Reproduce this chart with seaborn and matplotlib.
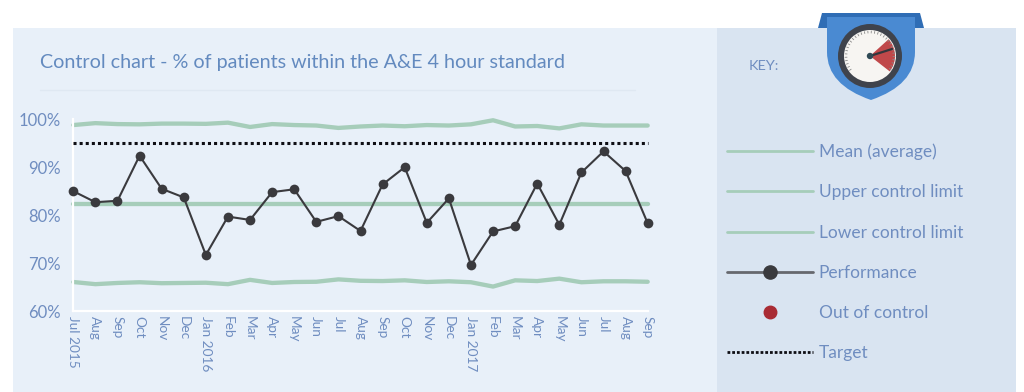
import numpy as np
import pandas as pd
import matplotlib
matplotlib.use("Agg")
import matplotlib.pyplot as plt
from matplotlib.lines import Line2D
from matplotlib.patches import Rectangle, Circle, Wedge, PathPatch, Polygon
from matplotlib.path import Path
import seaborn as sns

tick_labels = ["Jul 2015", "Aug", "Sep", "Oct", "Nov", "Dec", "Jan 2016", "Feb", "Mar", "Apr",
               "May", "Jun", "Jul", "Aug", "Sep", "Oct", "Nov", "Dec", "Jan 2017", "Feb",
               "Mar", "Apr", "May", "Jun", "Jul", "Aug", "Sep"]
performance = [85.0, 82.7, 83.0, 92.4, 85.5, 83.7, 71.7, 79.7, 79.0, 84.8, 85.4, 78.6, 79.8, 76.7,
               86.4, 90.0, 78.4, 83.5, 69.6, 76.6, 77.7, 86.6, 78.0, 88.9, 93.3, 89.2, 78.3]
upper = [98.8, 99.2, 99.0, 98.95, 99.1, 99.1, 99.05, 99.3, 98.4, 99.0, 98.8, 98.7, 98.2, 98.5,
         98.7, 98.55, 98.8, 98.7, 98.95, 99.8, 98.5, 98.6, 98.1, 98.95, 98.7, 98.7, 98.7]
lower = [66.05, 65.6, 65.85, 66.0, 65.8, 65.85, 65.9, 65.6, 66.5, 65.85, 66.05, 66.1, 66.6, 66.3,
         66.25, 66.4, 66.05, 66.2, 66.0, 65.1, 66.4, 66.25, 66.75, 66.0, 66.2, 66.2, 66.1]
mean = [82.4] * 27
target = [95.0] * 27
y_ticks = [60, 70, 80, 90, 100]
legend_labels = ["Mean (average)", "Upper control limit", "Lower control limit",
                 "Performance", "Out of control", "Target"]

GREEN = "#A6CDBA"
DARK = "#3A3A3E"
TEXT = "#6F8DC0"
W, H = 1024, 392

sns.set_theme(style="white")
plt.rcParams["font.family"] = ["Lato", "DejaVu Sans"]

fig = plt.figure(figsize=(W / 100, H / 100), dpi=100, facecolor="white")

# Background panels and badge, in pixel coordinates
bg = fig.add_axes([0, 0, 1, 1], zorder=0)
bg.set_xlim(0, W); bg.set_ylim(H, 0); bg.axis("off")
bg.add_patch(Rectangle((13, 28), 704, 364, fc="#E8F0F9", ec="none"))
bg.add_patch(Rectangle((717, 28), 299, 364, fc="#D9E4F1", ec="none"))
bg.plot([40, 635], [90, 90], color="#DFE8F2", lw=1)
bg.text(40, 62, "Control chart - % of patients within the A&E 4 hour standard",
        color="#638ABF", fontsize=14.25, va="center", ha="left")
bg.text(749, 66, "KEY:", color=TEXT, fontsize=10.4, va="center", ha="left")

bg.add_patch(Polygon([(822, 13), (920, 13), (924, 28), (818, 28)], fc="#2F6DB5", ec="none", zorder=3))
badge = Path([(827, 17), (915, 17), (915, 52), (915, 85), (871, 100), (827, 85), (827, 52), (827, 17)],
             [Path.MOVETO, Path.LINETO, Path.LINETO, Path.CURVE3, Path.CURVE3, Path.CURVE3, Path.CURVE3, Path.CLOSEPOLY])
bg.add_patch(PathPatch(badge, fc="#4A8AD2", ec="none", zorder=4))
bg.add_patch(Circle((870, 56), 32, fc="#3F434C", ec="none", zorder=5))
bg.add_patch(Circle((870, 56), 26, fc="#F7F5F2", ec="none", zorder=6))
bg.add_patch(Wedge((870, 56), 25, -42, 38, fc="#C0484A", ec="none", zorder=7))
for a in np.radians(np.arange(-125, 130, 8)):
    bg.plot([870 + 23 * np.sin(a), 870 + 25 * np.sin(a)],
            [56 - 23 * np.cos(a), 56 - 25 * np.cos(a)], color="#8A8A8A", lw=0.6, zorder=8)
bg.plot([870, 892], [56, 49], color="#33363C", lw=1.6, zorder=9)
bg.add_patch(Circle((870, 56), 3.2, fc="#2F4A55", ec="none", zorder=10))

# Chart
ax = fig.add_axes([73.3 / W, 1 - 311 / H, (647.7 - 73.3) / W, (311 - 119.3) / H], zorder=1)
ax.patch.set_alpha(0)
df = pd.DataFrame({"x": np.arange(len(tick_labels)), "upper": upper, "lower": lower, "mean": mean,
                   "target": target, "performance": performance})
for col in ["upper", "lower", "mean"]:
    sns.lineplot(data=df, x="x", y=col, ax=ax, color=GREEN, lw=3.1, clip_on=False, zorder=2, errorbar=None)
sns.lineplot(data=df, x="x", y="target", ax=ax, color="#0E0E14", lw=2.2, clip_on=False, zorder=3,
             errorbar=None, linestyle=(0, (1, 1)))
sns.lineplot(data=df, x="x", y="performance", ax=ax, color=DARK, lw=1.5, marker="o", markersize=7,
             markeredgewidth=0, clip_on=False, zorder=4, errorbar=None)

ax.set_xlim(0, len(tick_labels) - 1)
ax.set_ylim(60, 100)
ax.set_xlabel(""); ax.set_ylabel("")
ax.set_yticks(y_ticks, [f"{v}%" for v in y_ticks])
ax.set_xticks(df["x"], tick_labels, rotation=-90, ha="center", va="top")
ax.tick_params(axis="y", colors="white", length=6, width=1.2, pad=3, labelcolor=TEXT, labelsize=12)
ax.tick_params(axis="x", length=0, pad=3.5, labelcolor=TEXT, labelsize=9.8)
sns.despine(ax=ax)
for side in ["left", "bottom"]:
    ax.spines[side].set_color("white")
    ax.spines[side].set_linewidth(1.6)

handles = [
    Line2D([], [], color=GREEN, lw=2),
    Line2D([], [], color=GREEN, lw=2),
    Line2D([], [], color=GREEN, lw=2),
    Line2D([], [], color="#66686E", lw=2, marker="o", ms=9.5, mfc=DARK, mec=DARK),
    Line2D([], [], color="none", marker="o", ms=9, mfc="#A92B34", mec="#A92B34"),
    Line2D([], [], color="#0E0E14", lw=2, linestyle=(0, (1, 0.7))),
]
leg = fig.legend(handles, legend_labels, loc="upper left", bbox_to_anchor=(727 / W, 1 - 143.7 / H),
                 bbox_transform=fig.transFigure, frameon=False, fontsize=12.5, labelcolor=TEXT,
                 handlelength=4.95, handletextpad=0.33, labelspacing=1.395, borderpad=0, borderaxespad=0)
leg.set_zorder(5)

fig.savefig("out.png", dpi=100, facecolor="white")
